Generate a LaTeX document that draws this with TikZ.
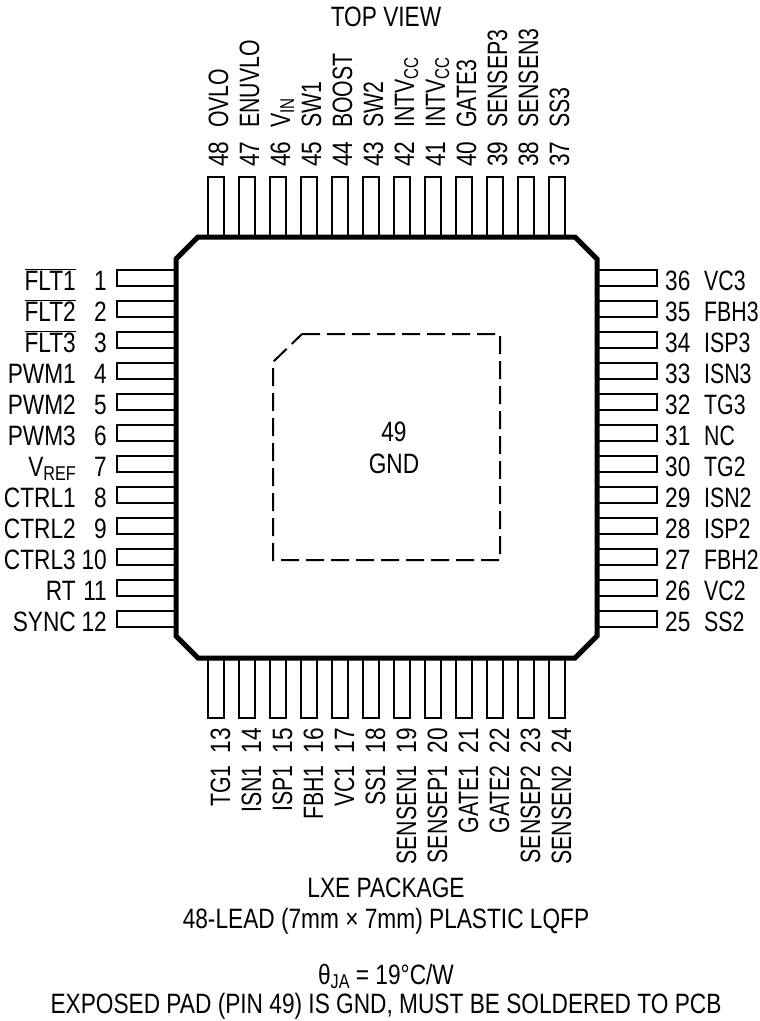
\documentclass[tikz,border=0pt]{standalone}
\usepackage{fontspec}
\setmainfont[FakeStretch=0.81]{Liberation Sans}
\newfontface\narrowface[FakeStretch=0.76]{Liberation Sans}
\usetikzlibrary{positioning}
\newcommand{\barred}[1]{$\overline{\mbox{#1}}$}
\newcommand{\lowered}[1]{\raisebox{-4pt}{\fontsize{20}{22}\selectfont #1}}
\tikzstyle{pinLabel} = [
    font=\fontsize{28}{32}\selectfont,
    inner sep=0 pt
    ]
\tikzstyle{nameLabel} = [
    font=\narrowface\fontsize{28}{32}\selectfont,
    inner sep=0 pt
    ]
\tikzstyle{upNumber} = [
    pinLabel,
    rotate=90,
    anchor=base west
    ]
\tikzstyle{upName} = [
    nameLabel,
    rotate=90,
    anchor=base west
    ]
\tikzstyle{downNumber} = [
    pinLabel,
    rotate=90,
    anchor=base east
    ]
\tikzstyle{downName} = [
    nameLabel,
    rotate=90,
    anchor=base east
    ]
\tikzstyle{caption} = [
    pinLabel,
    anchor=base
    ]
\tikzstyle{verticalPin} = [
    rectangle,
    draw,
    line width=1.5 pt,
    minimum width=16 pt,
    minimum height=60 pt,
    inner sep=0 pt
    ]
\tikzstyle{horizontalPin} = [
    rectangle,
    draw,
    line width=1.5 pt,
    minimum width=60 pt,
    minimum height=16 pt,
    inner sep=0 pt
    ]

\begin{document}
\begin{tikzpicture}[x=1pt, y=-1pt]
    \useasboundingbox (0,0) rectangle (760,1021);
    % pins on all four sides
    \foreach \n/\name [count=\i from 0] in {48/OVLO, 47/ENUVLO, 46/V\lowered{IN}, 45/SW1, 44/BOOST, 43/SW2, 42/INTV\lowered{CC}, 41/INTV\lowered{CC}, 40/GATE3, 39/SENSEP3, 38/SENSEN3, 37/SS3} {
      \node[verticalPin] (pin\n) at ({216+31*\i},207) {};
      \node[upNumber] (num\n) at ({228+31*\i},167) {\n};
      \node[upName] (lab\n) at ({228+31*\i},128) {\name};
    }
    \foreach \n/\name [count=\i from 0] in {13/TG1, 14/ISN1, 15/ISP1, 16/FBH1, 17/VC1, 18/SS1, 19/SENSEN1, 20/SENSEP1, 21/GATE1, 22/GATE2, 23/SENSEP2, 24/SENSEN2} {
      \node[verticalPin] (pin\n) at ({216+31*\i},688) {};
      \node[downNumber] (num\n) at ({230+31*\i},728) {\n};
      \node[downName] (lab\n) at ({230+31*\i},765) {\name};
    }
    \foreach \n/\name [count=\i from 0] in {1/\barred{FLT1}, 2/\barred{FLT2}, 3/\barred{FLT3}, 4/PWM1, 5/PWM2, 6/PWM3, 7/V\lowered{REF}, 8/CTRL1, 9/CTRL2, 10/CTRL3, 11/RT, 12/SYNC} {
      \node[horizontalPin] (pin\n) at (147,{278+31*\i}) {};
      \node[pinLabel, anchor=base east] (num\n) at (107,{290+31*\i}) {\n};
      \node[pinLabel, anchor=base east] (lab\n) at (76,{290+31*\i}) {\name};
    }
    \foreach \n/\name [count=\i from 0] in {36/VC3, 35/FBH3, 34/ISP3, 33/ISN3, 32/TG3, 31/NC, 30/TG2, 29/ISN2, 28/ISP2, 27/FBH2, 26/VC2, 25/SS2} {
      \node[horizontalPin] (pin\n) at (627,{278+31*\i}) {};
      \node[pinLabel, anchor=base west] (num\n) at (665,{290+31*\i}) {\n};
      \node[nameLabel, anchor=base west] (lab\n) at (704,{290+31*\i}) {\name};
    }
    % package outline and exposed pad
    \draw[line width=5 pt, fill=white] (198,237) -- (575,237) -- (597,259) -- (597,636) -- (575,658) -- (198,658) -- (176,636) -- (176,259) -- cycle;
    \draw[line width=2 pt, dash pattern=on 18 pt off 7 pt] (302,334) -- (500,334) -- (500,560) -- (273,560) -- (273,362) -- cycle;
    \node[caption] (padNum) at (394,441) {49};
    \node[caption] (padName) at (394,473) {GND};
    % captions
    \node[caption] (topView) at (386,26) {TOP VIEW};
    \node[caption] (pkgName) at (386,897) {LXE PACKAGE};
    \node[caption] (pkgSize) at (386,928) {48-LEAD (7mm × 7mm) PLASTIC LQFP};
    \node[caption] (theta) at (386,984) {θ\lowered{JA} = 19°C/W};
    \node[caption] (padNote) at (386,1013) {EXPOSED PAD (PIN 49) IS GND, MUST BE SOLDERED TO PCB};
\end{tikzpicture}
\end{document}
